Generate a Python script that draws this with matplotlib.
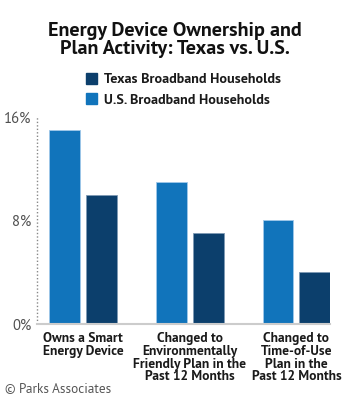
import matplotlib.pyplot as plt
from matplotlib.patches import Patch

categories = [
    "Owns a Smart\nEnergy Device",
    "Changed to\nEnvironmentally\nFriendly Plan in the\nPast 12 Months",
    "Changed to\nTime-of-Use\nPlan in the\nPast 12 Months",
]
us_values = [15, 11, 8]
texas_values = [10, 7, 4]
y_ticks = [0, 8, 16]
y_tick_labels = ["0%", "8%", "16%"]

US_COLOR = "#1174bb"
TX_COLOR = "#0c3f6c"
BOLD = ["PT Sans", "Open Sans", "DejaVu Sans"]
REGULAR = ["PT Sans", "Open Sans", "DejaVu Sans"]

plt.rcParams["font.family"] = REGULAR

fig = plt.figure(figsize=(3.49, 4.01), dpi=100)
ax = fig.add_axes([37 / 349, 77 / 401, 293 / 349, 207 / 401])

x = list(range(len(categories)))
width = 0.29
offset = 0.173
ax.bar([i - offset for i in x], us_values, width, color=US_COLOR,
       edgecolor="#9fc8ea", linewidth=0.6)
ax.bar([i + offset for i in x], texas_values, width, color=TX_COLOR,
       edgecolor="#7f9ab4", linewidth=0.6)

ax.set_xlim(-0.431, 2.314)
ax.set_ylim(0, 16)

for side in ["top", "right", "bottom", "left"]:
    ax.spines[side].set_visible(False)
ax.axvline(-0.431, color="#888888", linestyle=(0, (1, 1.5)), linewidth=1.0,
           clip_on=False)
ax.axhline(0, color="#cccccc", linewidth=1.5, clip_on=False)

ax.set_yticks(y_ticks)
ax.set_yticklabels(y_tick_labels, fontsize=10.5, color="#505050", family=REGULAR)
ax.tick_params(axis="y", length=0, pad=4)

ax.set_xticks(x)
ax.set_xticklabels(categories, fontsize=9.7, fontweight="bold", color="#1a1a1a",
                   linespacing=0.97, va="top", family=BOLD)
ax.tick_params(axis="x", length=0, pad=6)

fig.text(0.5, 1 - 40 / 401, "Energy Device Ownership and\nPlan Activity: Texas vs. U.S.",
         ha="center", va="center", fontsize=14.5, fontweight="bold",
         color="#111111", linespacing=1.05, family=BOLD)

handles = [Patch(color=TX_COLOR, label="Texas Broadband Households"),
           Patch(color=US_COLOR, label="U.S. Broadband Households")]
fig.legend(handles=handles, loc="upper left", bbox_to_anchor=(86 / 349, 1 - 73 / 401),
           frameon=False, handlelength=0.8, handleheight=0.8, borderpad=0,
           borderaxespad=0, handletextpad=0.45, labelspacing=0.5,
           labelcolor="#1a1a1a",
           prop={"weight": "bold", "size": 10.2, "family": BOLD})

fig.text(5 / 349, 1 - 389 / 401, "\u00a9 Parks Associates", ha="left", va="center",
         fontsize=9.5, color="#555555", family=REGULAR)

fig.savefig("out.png", dpi=100)
